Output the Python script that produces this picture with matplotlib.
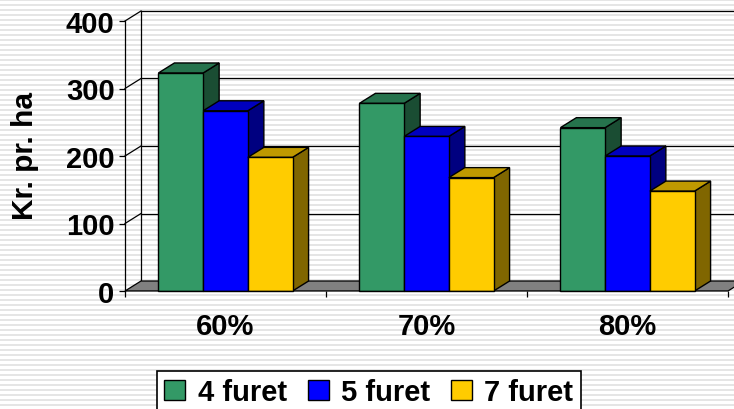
import numpy as np
import matplotlib
matplotlib.use('Agg')
import matplotlib.pyplot as plt
from matplotlib.patches import Polygon, Patch
from matplotlib.colors import to_rgb

plt.rcParams['font.family'] = ['Liberation Sans', 'DejaVu Sans']
plt.rcParams['font.weight'] = 'bold'

# data
categories = ['60%', '70%', '80%']
series_names = ['4 furet', '5 furet', '7 furet']
values_4 = [323, 278, 242]
values_5 = [267, 229, 200]
values_7 = [198, 168, 148]
series_values = [values_4, values_5, values_7]
colors = ['#339966', '#0000FF', '#FFCC00']
yticks = [0, 100, 200, 300, 400]

W, H = 734, 410
fig = plt.figure(figsize=(W / 100, H / 100), dpi=100)

# striped background
stripes = np.ones((H, W, 3))
for r in range(H):
    if r % 5 in (0, 1):
        stripes[r, :, :] = 0.9
fig.figimage(stripes, xo=0, yo=0, zorder=-5)

ax = fig.add_axes([125 / W, (H - 292) / H, 603 / W, 270 / H])
ax.set_zorder(2)
ax.set_facecolor('none')
ax.set_xlim(-0.5, 2.5)
ax.set_ylim(0, 400)
for s in ax.spines.values():
    s.set_visible(False)

# depth of the 3d look, pixels -> data units
dx = 16 / (603 / 3)
dy = 10 / (270 / 400)

line_kw = dict(color='black', lw=0.9, clip_on=False)
x0, x1 = ax.get_xlim()
# back wall gridlines and left wall
for v in yticks[1:]:
    ax.plot([x0 + dx, x1 + dx], [v + dy, v + dy], zorder=1, **line_kw)
    ax.plot([x0, x0 + dx], [v, v + dy], zorder=1, **line_kw)
ax.plot([x0 + dx, x0 + dx], [dy, 400 + dy], zorder=1, **line_kw)
ax.plot([x0, x0], [0, 400], zorder=60, **line_kw)

# floor
floor = Polygon([(x0, 0), (x1, 0), (x1 + dx, dy), (x0 + dx, dy)],
                closed=True, facecolor='#808080', edgecolor='black',
                lw=0.9, clip_on=False, zorder=2)
ax.add_patch(floor)

# bars
w = 0.2225
z = 3
for j in range(len(categories)):
    for i, vals in enumerate(series_values):
        c = np.array(to_rgb(colors[i]))
        xc = j + (i - 1) * w
        l, r = xc - w / 2, xc + w / 2
        h = vals[j]
        side = Polygon([(r, 0), (r, h), (r + dx, h + dy), (r + dx, dy)],
                       closed=True, facecolor=c * 0.5, edgecolor='black',
                       lw=1.0, clip_on=False, zorder=z)
        top = Polygon([(l, h), (l + dx, h + dy), (r + dx, h + dy), (r, h)],
                      closed=True, facecolor=c * 0.75, edgecolor='black',
                      lw=1.0, clip_on=False, zorder=z)
        ax.add_patch(side)
        ax.add_patch(top)
        ax.bar(xc, h, width=w, color=c, edgecolor='black', lw=1.0,
               zorder=z + 0.5, clip_on=False)
        z += 1

ax.axhline(0, color='black', lw=1.0, zorder=z)

# ticks
ax.set_yticks(yticks)
ax.set_yticklabels([str(t) for t in yticks], fontsize=21, fontweight='bold')
ax.tick_params(axis='y', direction='out', length=4.5, width=0.9, pad=3)
ax.set_xticks(range(len(categories)))
ax.set_xticklabels(categories, fontsize=21, fontweight='bold')
ax.set_xticks(np.arange(-0.5, len(categories)), minor=True)
ax.tick_params(axis='x', which='major', length=0, pad=15)
ax.tick_params(axis='x', which='minor', direction='out', length=4, width=0.9)

fig.text(25 / W, 1 - 156 / H, 'Kr. pr. ha', rotation=90, ha='center',
         va='center', fontsize=21.5, fontweight='bold')

handles = [Patch(facecolor=colors[i], edgecolor='black', lw=1.0)
           for i in range(len(series_names))]
leg = fig.legend(handles, series_names, loc='upper left',
                 bbox_to_anchor=(157 / W, 1 - 372 / H), ncol=3,
                 prop={'size': 21, 'weight': 'bold'}, frameon=True,
                 fancybox=False, handlelength=0.72, handleheight=0.72,
                 handletextpad=0.42, columnspacing=0.72, borderpad=0.25,
                 borderaxespad=0)
leg.set_zorder(10)
leg.get_frame().set_edgecolor('black')
leg.get_frame().set_linewidth(1.2)
leg.get_frame().set_facecolor('white')
leg.get_frame().set_alpha(1)

fig.savefig('out.png', dpi=100)
